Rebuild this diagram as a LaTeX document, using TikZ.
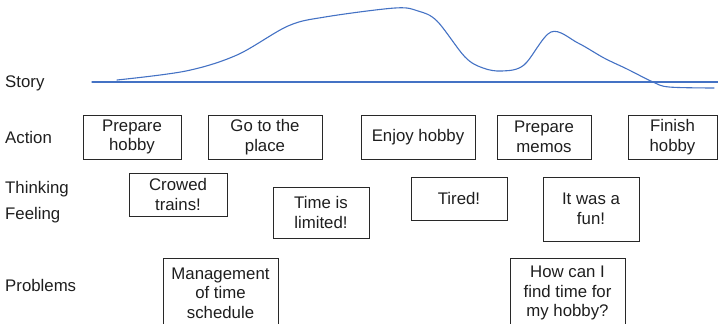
\documentclass[tikz,border=0pt]{standalone}
\usepackage{fontspec}
\setmainfont{Liberation Sans}
\definecolor{storyblue}{RGB}{68,114,196}
\definecolor{boxgray}{RGB}{40,40,40}
\definecolor{txt}{RGB}{30,30,30}
\newcommand\diagfont{\fontsize{16.8}{19.5}\selectfont}
\begin{document}
\begin{tikzpicture}[x=1pt,y=-1pt,
  box/.style={draw=boxgray, line width=0.9pt, align=center, inner sep=0pt,
              text=txt, font=\diagfont},
  lbl/.style={anchor=west, inner sep=0pt, text=txt, font=\diagfont},
  story/.style={draw=storyblue, line width=1.1pt, line cap=round}]
\useasboundingbox (0,0) rectangle (718,324);
\clip (0,0) rectangle (718,324);

% row labels
\node[lbl] (lStory)    at (5,83)  {Story};
\node[lbl] (lAction)   at (5,137) {Action};
\node[lbl] (lThinking) at (5,189.5) {Thinking};
\node[lbl] (lFeeling)  at (5,215) {Feeling};
\node[lbl] (lProblems) at (5,285) {Problems};

% story baseline and curve
\coordinate (sL) at (92,82);
\coordinate (sR) at (718,82);
\draw[story] (sL) -- (sR);
\draw[story] plot[smooth, tension=0.55] coordinates {
  (117,80) (186,71) (237,55) (288,26) (325,17) (395,8) (418,11) (437,21)
  (465,57) (483,68) (502,71) (524,65) (551,32) (578,43) (604,58)
  (627,69) (653,82) (669,87) (714,88)};

% actions
\node[box, minimum width=98pt,  minimum height=44pt] (pH) at (132,137)    {Prepare\\hobby};
\node[box, minimum width=114pt, minimum height=44pt] (gP) at (265,137)    {Go to the\\place};
\node[box, minimum width=114pt, minimum height=44pt] (eH) at (418,137)    {Enjoy hobby};
\node[box, minimum width=94pt,  minimum height=44pt] (pM) at (544,137)    {Prepare\\memos};
\node[box, minimum width=89pt,  minimum height=44pt] (fH) at (672.5,137)  {Finish\\hobby};

% thinking / feeling
\node[box, minimum width=98pt, minimum height=43pt] (cT) at (178,194.5) {Crowed\\trains!};
\node[box, minimum width=96pt, minimum height=51pt] (tL) at (321,212.5) {Time is\\limited!};
\node[box, minimum width=96pt, minimum height=43pt] (tD) at (459,198.5) {Tired!};
\node[box, minimum width=96pt, minimum height=64pt] (fn) at (591,209)   {It was a\\fun!};

% problems
\node[box, minimum width=115pt, minimum height=70pt] (mg) at (220.5,293) {Management\\of time\\schedule};
\node[box, minimum width=115pt, minimum height=70pt] (hc) at (567.5,293) {How can I\\find time for\\my hobby?};
\end{tikzpicture}
\end{document}
